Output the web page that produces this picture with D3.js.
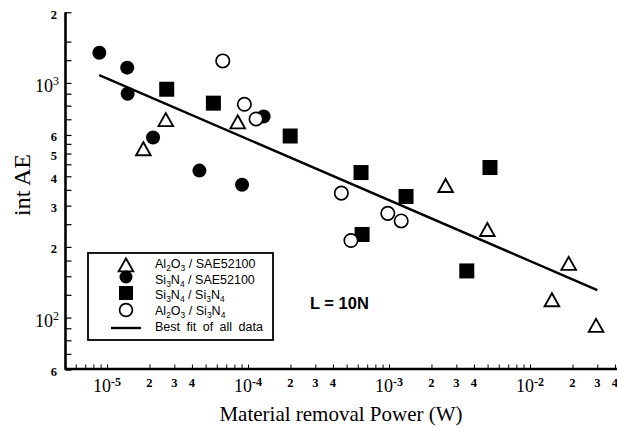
<!DOCTYPE html>
<html>
<head>
<meta charset="utf-8">
<script src="https://cdn.jsdelivr.net/npm/d3@7"></script>
<style>
  body { margin: 0; background: #fff; }
  svg { display: block; }
  .serif { font-family: "Liberation Serif", "Times New Roman", serif; }
  .sans { font-family: "Liberation Sans", Arial, sans-serif; }
</style>
</head>
<body>
<svg id="grafico" width="617" height="431"></svg>
<script>
// Dados (Potência em W, int AE)
const alSaeP  = [1.81e-5, 2.61e-5, 8.45e-5, 2.52e-3, 4.98e-3, 1.43e-2, 1.88e-2, 2.94e-2];
const alSaeAE = [524, 697, 682, 365, 237, 119, 170, 92.5];

const siSaeP  = [8.82e-6, 1.39e-5, 1.40e-5, 2.12e-5, 4.52e-5, 9.07e-5, 1.29e-4];
const siSaeAE = [1345, 1162, 899, 585, 423, 368, 719];

const siSiP  = [2.65e-5, 5.68e-5, 1.99e-4, 6.33e-4, 6.44e-4, 1.32e-3, 3.56e-3, 5.2e-3];
const siSiAE = [940, 820, 594, 415, 226, 328, 158, 436];

const alSiP  = [6.62e-5, 9.42e-5, 1.14e-4, 4.59e-4, 5.37e-4, 9.8e-4, 1.22e-3];
const alSiAE = [1241, 811, 702, 339, 213, 278, 258];

// reta de ajuste (extremos)
const fitP  = [8.8e-6, 3.0e-2];
const fitAE = [1080, 131];

// ticks
const xDecadas = [1e-5, 1e-4, 1e-3, 1e-2];
const xExpoentes = ["-5", "-4", "-3", "-2"];
const xMenores = [2, 3, 4];
const yRotulos = [[2000, "2"], [600, "6"], [500, "5"], [400, "4"], [300, "3"], [200, "2"], [60, "6"]];
const yDecadas = [[1000, "3"], [100, "2"]];
const yTicks = [60, 70, 80, 90, 100, 125, 150, 175, 200, 250, 300, 350, 400, 450, 500, 550, 600,
                700, 800, 900, 1000, 1250, 1500, 2000];

// legenda: partes [texto, subscrito?]
const legenda = [
  [["Al"], ["2", 1], ["O"], ["3", 1], [" / SAE52100"]],
  [["Si"], ["3", 1], ["N"], ["4", 1], [" / SAE52100"]],
  [["Si"], ["3", 1], ["N"], ["4", 1], [" / Si"], ["3", 1], ["N"], ["4", 1]],
  [["Al"], ["2", 1], ["O"], ["3", 1], [" / Si"], ["3", 1], ["N"], ["4", 1]],
  [["Best fit of all data"]]
];

const svg = d3.select("#grafico");

const x = d3.scaleLog().domain([5e-6, 4.2e-2]).range([64.6, 617.9]);
const y = d3.scaleLog().domain([60, 2000]).range([369.6, 12.3]);

// ticks menores do eixo x
const xTicks = [];
for (let e = -6; e <= -2; e++) {
  for (let m = 1; m <= 9; m++) {
    const v = m * Math.pow(10, e);
    if (v >= 5e-6 && v <= 4.2e-2) xTicks.push(v);
  }
}

// eixo x
const eixoX = svg.append("g")
  .attr("transform", "translate(0,368.5)")
  .call(d3.axisBottom(x).tickValues(xTicks).tickSizeInner(-4).tickSizeOuter(0).tickFormat(""));
eixoX.select(".domain").attr("stroke-width", 2.6);
eixoX.selectAll(".tick line").attr("stroke-width", 1);

// eixo y
const eixoY = svg.append("g")
  .attr("transform", "translate(65.5,0)")
  .call(d3.axisLeft(y).tickValues(yTicks).tickSizeInner(-6).tickSizeOuter(0).tickFormat(""));
eixoY.select(".domain").attr("stroke-width", 2.6)
  .attr("d", `M0,${y(2000)}V369.8`);
eixoY.selectAll(".tick line").attr("stroke-width", 1.2);

// rótulos x
xDecadas.forEach((v, i) => {
  const t = svg.append("text").attr("class", "serif")
    .attr("x", x(v)).attr("y", 392).attr("text-anchor", "middle");
  t.append("tspan").attr("font-size", 18).text("10");
  t.append("tspan").attr("font-size", 12).attr("font-weight", "bold").attr("dy", -6).text(xExpoentes[i]);
  xMenores.forEach(m => {
    svg.append("text").attr("class", "serif")
      .attr("x", x(v * m)).attr("y", 386.5).attr("text-anchor", "middle")
      .attr("font-size", 12.5).attr("font-weight", "bold")
      .text(m);
  });
});

// rótulos y
yRotulos.forEach(([v, s]) => {
  svg.append("text").attr("class", "serif")
    .attr("x", 57).attr("y", y(v) + 6.5).attr("text-anchor", "end")
    .attr("font-size", 12.5).attr("font-weight", "bold")
    .text(s);
});
yDecadas.forEach(([v, s]) => {
  const t = svg.append("text").attr("class", "serif")
    .attr("x", 59).attr("y", y(v) + 9).attr("text-anchor", "end");
  t.append("tspan").attr("font-size", 18).text("10");
  t.append("tspan").attr("font-size", 12).attr("dy", -7).text(s);
});

// títulos
svg.append("text").attr("class", "serif")
  .attr("x", 341).attr("y", 421).attr("text-anchor", "middle")
  .attr("font-size", 21)
  .text("Material removal Power (W)");

svg.append("text").attr("class", "serif")
  .attr("transform", "translate(30,185) rotate(-90)")
  .attr("text-anchor", "middle")
  .attr("font-size", 24)
  .text("int AE");

svg.append("text").attr("class", "sans")
  .attr("x", 310).attr("y", 309)
  .attr("font-size", 16.5).attr("font-weight", "bold")
  .text("L = 10N");

// reta de ajuste
svg.append("line")
  .attr("x1", x(fitP[0])).attr("y1", y(fitAE[0]))
  .attr("x2", x(fitP[1])).attr("y2", y(fitAE[1]))
  .attr("stroke", "#000").attr("stroke-width", 2.4);

// marcadores
const tri = "M0,-6.6L7.3,6.4L-7.3,6.4Z";

function pontos(P, AE) { return P.map((p, i) => ({ p: p, ae: AE[i] })); }

svg.append("g").selectAll("circle")
  .data(pontos(siSaeP, siSaeAE)).enter().append("circle")
  .attr("cx", d => x(d.p)).attr("cy", d => y(d.ae)).attr("r", 7)
  .attr("fill", "#000");

svg.append("g").selectAll("rect")
  .data(pontos(siSiP, siSiAE)).enter().append("rect")
  .attr("x", d => x(d.p) - 7.5).attr("y", d => y(d.ae) - 7.5)
  .attr("width", 15).attr("height", 15)
  .attr("fill", "#000");

svg.append("g").selectAll("path")
  .data(pontos(alSaeP, alSaeAE)).enter().append("path")
  .attr("d", tri)
  .attr("transform", d => `translate(${x(d.p)},${y(d.ae)})`)
  .attr("fill", "#fff").attr("stroke", "#000").attr("stroke-width", 1.9)
  .attr("stroke-linejoin", "miter");

svg.append("g").selectAll("circle")
  .data(pontos(alSiP, alSiAE)).enter().append("circle")
  .attr("cx", d => x(d.p)).attr("cy", d => y(d.ae)).attr("r", 6.7)
  .attr("fill", "#fff").attr("stroke", "#000").attr("stroke-width", 1.7);

// legenda
const leg = svg.append("g");
leg.append("rect")
  .attr("x", 88).attr("y", 253).attr("width", 185).attr("height", 87)
  .attr("fill", "#fff").attr("stroke", "#000").attr("stroke-width", 1.8);

const mx = 126;
leg.append("path").attr("d", tri).attr("transform", `translate(${mx},265)`)
  .attr("fill", "#fff").attr("stroke", "#000").attr("stroke-width", 1.9);
leg.append("circle").attr("cx", mx).attr("cy", 277).attr("r", 6.5).attr("fill", "#000");
leg.append("rect").attr("x", mx - 7).attr("y", 286).attr("width", 14).attr("height", 14).attr("fill", "#000");
leg.append("circle").attr("cx", mx).attr("cy", 310).attr("r", 6.4)
  .attr("fill", "#fff").attr("stroke", "#000").attr("stroke-width", 1.7);
leg.append("line").attr("x1", 111).attr("x2", 141).attr("y1", 328).attr("y2", 328)
  .attr("stroke", "#000").attr("stroke-width", 2.4);

legenda.forEach((partes, i) => {
  const t = leg.append("text").attr("class", "sans")
    .attr("x", 155).attr("y", 268 + i * 15.7)
    .attr("font-size", 12.5)
    .attr("word-spacing", i === 4 ? 3 : 0);
  let sub = false;
  partes.forEach(([s, isSub]) => {
    const ts = t.append("tspan").text(s);
    if (isSub && !sub) { ts.attr("dy", 3).attr("font-size", 8.5); sub = true; }
    else if (!isSub && sub) { ts.attr("dy", -3); sub = false; }
    else if (isSub) ts.attr("font-size", 8.5);
  });
});
</script>
</body>
</html>
